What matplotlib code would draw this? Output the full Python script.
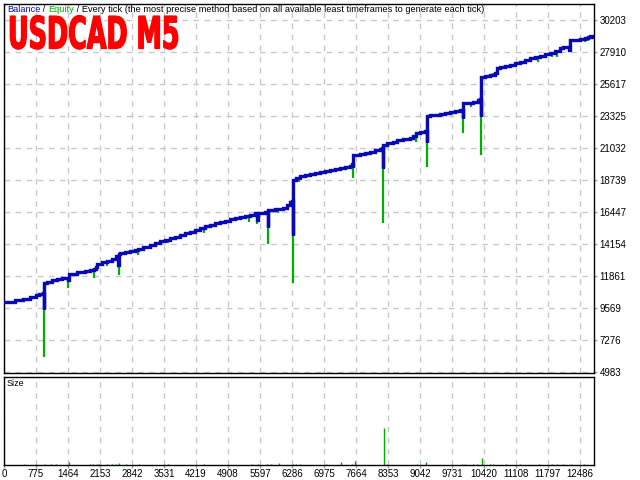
import matplotlib
matplotlib.use('Agg')
import matplotlib.pyplot as plt
import numpy as np
from matplotlib.patheffects import AbstractPathEffect
from matplotlib.transforms import Affine2D

# ---------------- data ----------------
bal_trade = [86, 323, 495, 646, 775, 850, 926, 947, 947,
             1012, 1119, 1227, 1335, 1464, 1475, 1658, 1830, 1938, 2024, 2060, 2088,
             2196, 2304, 2411, 2500, 2540, 2562, 2583, 2691, 2799, 2906, 2971,
             3079, 3229, 3337, 3445, 3552, 3660, 3768, 3875, 3983, 4091, 4198, 4306,
             4414, 4521, 4629, 4736, 4844, 4952, 5059, 5167, 5275, 5382, 5490, 5533,
             5545, 5598, 5705, 5770, 5780, 5813, 5921, 6093, 6179, 6244, 6290, 6308, 6308,
             6373, 6459, 6567, 6674, 6782, 6889, 6997, 7105, 7212, 7320, 7428, 7535,
             7580, 7600, 7610, 7751, 7858, 7966, 8074, 8181, 8230, 8246, 8255,
             8332, 8461, 8547, 8676, 8827, 8892, 8956, 9042, 9150, 9185, 9193,
             9258, 9365, 9473, 9580, 9688, 9796, 9903, 9960, 9975, 10183, 10291, 10340,
             10356, 10356, 10442, 10549, 10657, 10700, 10765, 10872, 10980, 11088, 11195,
             11303, 11411, 11518, 11626, 11734, 11841, 11949, 12057, 12121, 12207, 12260,
             12272, 12380, 12487, 12595, 12660, 12703, 12767, 12790]
bal_value = [10000, 10142, 10213, 10357, 10500, 10572, 10643, 9497, 11360,
             11432, 11575, 11646, 11718, 11575, 12005, 12148, 12220, 12291, 12363, 12506, 12721,
             12865, 12936, 13079, 13294, 12650, 13438, 13509, 13581, 13653, 13724, 13796,
             13939, 14083, 14226, 14369, 14441, 14584, 14656, 14799, 14942, 15014, 15157, 15301,
             15444, 15516, 15659, 15731, 15802, 15945, 16017, 16089, 16160, 16232, 16375, 15874,
             16375, 16375, 16447, 15372, 16590, 16590, 16662, 16734, 16949, 17164, 17235, 14799, 18740,
             18883, 19026, 19098, 19170, 19241, 19313, 19385, 19456, 19528, 19600, 19671, 19743,
             19886, 19671, 20531, 20603, 20675, 20746, 20890, 20961, 21033, 19600, 21247,
             21391, 21462, 21606, 21678, 21749, 21892, 22107, 22179, 22250, 21462, 23325,
             23397, 23397, 23468, 23540, 23612, 23683, 23755, 23182, 24257, 24328, 24472, 24543,
             23300, 26120, 26192, 26263, 26407, 26765, 26836, 26908, 26980, 27123, 27195,
             27338, 27482, 27553, 27600, 27768, 27840, 27983, 28198, 28270, 28300, 28055,
             28771, 28771, 28843, 28914, 28986, 29058, 28986, 28986]

dip_trade = [516, 947, 1119, 1464, 2024, 2304, 2562, 2971, 3617, 4198, 4392,
             5360, 5533, 5770, 5985, 6308, 6438, 6674, 6997, 7600, 7837, 8246,
             8526, 8956, 9193, 9968, 10140, 10356, 10480, 10614, 10872, 11216, 11583,
             11884, 11992, 12121, 12272, 12595, 12660]
dip_low = [10150, 6058, 11360, 11002, 11718, 12578, 11933, 13366, 14226, 14942, 14942,
           15731, 15587, 14154, 16375, 11360, 18618, 18976, 19241, 18900, 20531, 15659,
           21391, 21462, 19636, 22129, 24000, 20531, 26050, 26386, 26672, 27266, 27216,
           27574, 27574, 28055, 27900, 28648, 28700]

size_trade = [527, 775, 969, 1098, 1206, 1477, 1938, 2002, 2088, 2131, 2304, 2411,
              2487, 2562, 2713, 2993, 3617, 4392, 5425, 5554, 5748, 5834, 6007, 6308,
              6373, 6459, 7029, 7342, 7579, 7643, 8278, 8332, 8978, 9182, 9946, 10011,
              10194, 10270, 10369, 10549, 10605, 10894, 11195, 11604, 11884, 11992,
              12121, 12293, 12584]
size_lots = [0.03, 0.03, 0.03, 0.03, 0.03, 0.07, 0.03, 0.03, 0.03, 0.03, 0.03, 0.03,
             0.03, 0.06, 0.03, 0.03, 0.03, 0.03, 0.03, 0.03, 0.03, 0.03, 0.06, 0.03,
             0.03, 0.03, 0.03, 0.09, 0.03, 0.10, 1.00, 0.03, 0.03, 0.07, 0.03, 0.03,
             0.03, 0.03, 0.18, 0.03, 0.03, 0.03, 0.03, 0.03, 0.03, 0.03,
             0.03, 0.03, 0.03]

y_tick_labels = ["4983", "7276", "9569", "11861", "14154", "16447", "18739",
                 "21032", "23325", "25617", "27910", "30203"]
x_tick_labels = ["0", "775", "1464", "2153", "2842", "3531", "4219", "4908", "5597",
                 "6286", "6975", "7664", "8353", "9042", "9731", "10420", "11108",
                 "11797", "12486"]

# ---------------- layout ----------------
W, H = 640, 480
BLUE = '#0A0AB4'
GREEN = '#00B000'
GRID = '#C8C8C8'
RED = '#FF0000'
FONT = ['Liberation Sans', 'DejaVu Sans']


class HScaleBold(AbstractPathEffect):
    """Squeeze text horizontally around a fixed display x and thicken its strokes."""
    def __init__(self, sx, x0, lw, color):
        super().__init__()
        self.sx = sx
        self.x0 = x0
        self.lw = lw
        self.color = color

    def draw_path(self, renderer, gc, tpath, affine, rgbFace=None):
        aff = affine + Affine2D().translate(-self.x0, 0).scale(self.sx, 1).translate(self.x0, 0)
        gc0 = renderer.new_gc()
        gc0.copy_properties(gc)
        gc0.set_linewidth(self.lw)
        gc0.set_foreground(self.color)
        gc0.set_joinstyle('miter')
        renderer.draw_path(gc0, tpath, aff, rgbFace)
        gc0.restore()


fig = plt.figure(figsize=(6.4, 4.8), dpi=100)
fig.patch.set_facecolor('white')

ax = fig.add_axes([4 / W, 1 - 373 / H, 590 / W, 369 / H])
ax2 = fig.add_axes([4 / W, 1 - 465 / H, 590 / W, 88 / H], sharex=ax)

x_lo, x_hi = 86, 12790
yv = [float(v) for v in y_tick_labels]
ystep = (yv[-1] - yv[0]) / (len(yv) - 1)
ax.set_xlim(x_lo, x_hi)
ax.set_ylim(yv[0] - ystep / 32, yv[0] + ystep * 368 / 32)

# equity dips (green) drawn first
bt = np.array(bal_trade, dtype=float)
bv = np.array(bal_value, dtype=float)
for t, low in zip(dip_trade, dip_low):
    i = np.searchsorted(bt, t, side='right') - 1
    top = bv[max(i, 0)]
    ax.plot([t, t], [low, top], color=GREEN, lw=1.6, solid_capstyle='butt', zorder=3)

ax.plot(bal_trade, bal_value, color=BLUE, lw=2.4, drawstyle='steps-post',
        solid_joinstyle='miter', zorder=4)

# ticks / grid
xt_pos = [x_lo] + [float(s) for s in x_tick_labels[1:]]
for a in (ax, ax2):
    a.set_xticks(xt_pos[1:], minor=False)
    a.grid(axis='x', color=GRID, ls=(0, (4, 4)), lw=1)
    for sp in a.spines.values():
        sp.set_color('black')
        sp.set_linewidth(1)
ax.set_yticks(yv)
ax.set_yticklabels(y_tick_labels, family=FONT, fontsize=7)
ax.grid(axis='y', color=GRID, ls=(0, (4, 4)), lw=1)
ax.yaxis.tick_right()
ax.tick_params(axis='y', length=2, width=1, color='#A0A0A0', pad=2, labelcolor='black')
ax.tick_params(axis='x', length=0, labelbottom=False)

ax2.set_xticks(xt_pos)
ax2.set_xticklabels(x_tick_labels, family=FONT, fontsize=7)
ax2.tick_params(axis='x', length=2, width=1, color='#A0A0A0', pad=1)
ax2.set_yticks([])
ax2.set_ylim(0, 2.4)
ax2.vlines(size_trade, 0, size_lots, color=GREEN, lw=1)
ax2.text(3 / 590, 1 - 6 / 88, "Size", transform=ax2.transAxes, family=FONT,
         fontsize=6.5, va='center', ha='left')
ax2.grid(axis='x', color=GRID, ls=(0, (4, 4)), lw=1)

# header texts
fig.canvas.draw()
r = fig.canvas.get_renderer()
xpos = 7 / W
for s, c in [("Balance", BLUE), (" / ", 'black'), ("Equity", GREEN),
             (" / Every tick (the most precise method based on all available least timeframes to generate each tick)", 'black')]:
    t = fig.text(xpos, 1 - 10 / H, s, color=c, family=FONT, fontsize=6.7,
                 va='center', ha='left')
    bb = t.get_window_extent(renderer=r)
    xpos += bb.width / W

# big title, squeezed horizontally and thickened to the reference's heavy condensed look
title = fig.text(8 / W, 1 - 48.5 / H, "USDCAD M5", color=RED,
                 family=['DejaVu Sans'], fontweight='bold', fontsize=32,
                 va='baseline', ha='left')
tw = title.get_window_extent(renderer=r).width
title.set_path_effects([HScaleBold(172.0 / tw, 8.0, 1.0, RED)])

fig.savefig('out.png', dpi=100)
